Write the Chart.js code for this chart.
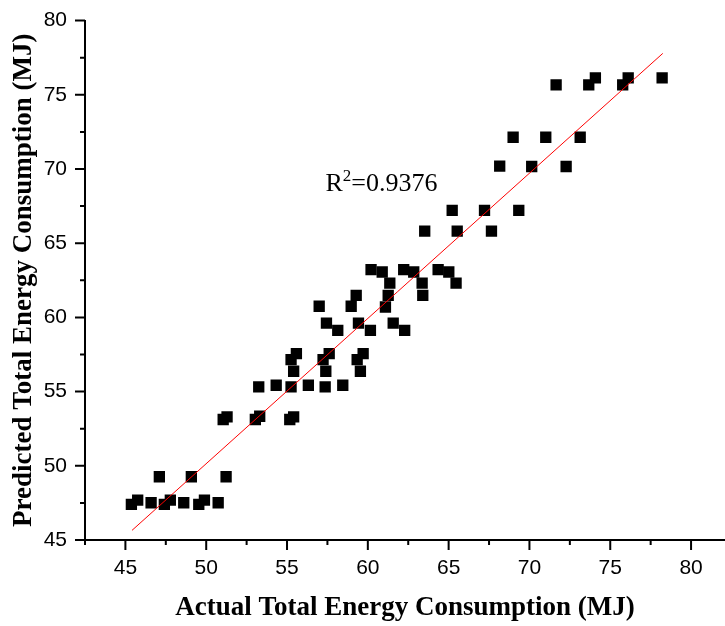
<!DOCTYPE html>
<html>
<head>
<meta charset="utf-8">
<script src="https://cdn.jsdelivr.net/npm/chart.js@4.4.1/dist/chart.umd.min.js"></script>
<style>
  html, body { margin: 0; padding: 0; background: #fff; }
  #energyChart { display: block; }
</style>
</head>
<body>
<canvas id="energyChart" width="725" height="626"></canvas>
<script>
const actual = [45.37, 45.76, 46.59, 47.41, 47.78, 48.61, 49.54, 49.89, 50.74,
    47.10, 49.08, 51.23,
    51.05, 51.29, 53.04, 53.31, 55.17, 55.41,
    53.25, 54.33, 55.25, 56.32, 57.36, 58.45,
    55.41, 57.40, 59.54,
    55.25, 55.58, 57.23, 57.61, 59.34, 59.71,
    56.99, 57.44, 58.14, 58.97, 59.28, 59.42, 60.16,
    61.09, 61.26, 61.57, 62.28, 63.40,
    60.20, 60.89, 61.36, 62.22, 62.84, 63.36, 64.35, 65.01, 65.46,
    63.52, 65.53, 67.65,
    65.22, 67.22, 69.34,
    68.16, 70.14, 72.27,
    68.99, 71.01, 73.14,
    71.65, 73.67, 74.08, 75.77, 76.11, 78.21];
const predicted = [47.40, 47.69, 47.51, 47.40, 47.69, 47.51, 47.40, 47.69, 47.51,
    49.26, 49.26, 49.26,
    53.12, 53.30, 53.12, 53.34, 53.12, 53.30,
    55.32, 55.43, 55.32, 55.43, 55.32, 55.43,
    56.37, 56.37, 56.37,
    57.16, 57.56, 57.16, 57.56, 57.16, 57.56,
    60.75, 59.62, 59.13, 60.75, 61.49, 59.62, 59.13,
    60.70, 61.49, 59.62, 59.13, 61.49,
    63.22, 63.06, 62.31, 63.22, 63.06, 62.31, 63.22, 63.06, 62.31,
    65.81, 65.81, 65.81,
    67.21, 67.21, 67.21,
    70.19, 70.17, 70.17,
    72.14, 72.14, 72.14,
    75.67, 75.67, 76.14, 75.67, 76.14, 76.14];

// fitted line end points
const fitX = [45.41, 78.25];
const fitY = [45.65, 77.79];

const xTicks = [42.5, 45, 47.5, 50, 52.5, 55, 57.5, 60, 62.5, 65, 67.5, 70, 72.5, 75, 77.5, 80];
const yTicks = [45, 47.5, 50, 52.5, 55, 57.5, 60, 62.5, 65, 67.5, 70, 72.5, 75, 77.5, 80];
const xLabels = [45, 50, 55, 60, 65, 70, 75, 80];
const yLabels = [45, 50, 55, 60, 65, 70, 75, 80];

const r2Text = ['R', '2', '=0.9376'];
const r2At = [57.38, 68.55];

const scatterPts = actual.map((v, i) => ({ x: v, y: predicted[i] }));
const fitPts = fitX.map((v, i) => ({ x: v, y: fitY[i] }));

const tickFont = { family: 'Liberation Sans, Arial, sans-serif', size: 21 };
const titleFont = { family: 'Liberation Serif, Times New Roman, serif', size: 27, weight: 'bold' };

// major/minor tick marks + R² label
const extras = {
    id: 'extras',
    afterDraw(chart) {
        const { ctx, scales: { x, y } } = chart;
        ctx.save();
        ctx.strokeStyle = '#000';
        ctx.lineWidth = 2;
        ctx.beginPath();
        xTicks.forEach(v => {
            const len = v % 5 === 0 ? 10 : 5;
            const px = x.getPixelForValue(v);
            ctx.moveTo(px, y.bottom);
            ctx.lineTo(px, y.bottom + len);
        });
        yTicks.forEach(v => {
            const len = v % 5 === 0 ? 10 : 5;
            const py = y.getPixelForValue(v);
            ctx.moveTo(x.left, py);
            ctx.lineTo(x.left - len, py);
        });
        ctx.stroke();

        let tx = x.getPixelForValue(r2At[0]);
        const ty = y.getPixelForValue(r2At[1]);
        ctx.fillStyle = '#000';
        ctx.textBaseline = 'alphabetic';
        ctx.textAlign = 'left';
        ctx.font = '26px "Liberation Serif", "Times New Roman", serif';
        ctx.fillText(r2Text[0], tx, ty);
        tx += ctx.measureText(r2Text[0]).width;
        ctx.font = '17px "Liberation Serif", "Times New Roman", serif';
        ctx.fillText(r2Text[1], tx, ty - 10);
        tx += ctx.measureText(r2Text[1]).width;
        ctx.font = '26px "Liberation Serif", "Times New Roman", serif';
        ctx.fillText(r2Text[2], tx, ty);
        ctx.restore();
    }
};

const ctx = document.getElementById('energyChart').getContext('2d');
const energyChart = new Chart(ctx, {
    data: {
        datasets: [
            {
                type: 'line',
                data: fitPts,
                borderColor: '#ff0000',
                borderWidth: 1,
                pointRadius: 0,
                fill: false,
                order: 0
            },
            {
                type: 'scatter',
                data: scatterPts,
                pointStyle: 'rect',
                pointRadius: 8,
                pointHoverRadius: 8,
                backgroundColor: '#000',
                borderWidth: 0,
                order: 1
            }
        ]
    },
    options: {
        responsive: false,
        animation: false,
        devicePixelRatio: 1,
        layout: { autoPadding: false, padding: { top: 20, right: 0, bottom: 0, left: 0 } },
        plugins: {
            legend: { display: false },
            tooltip: { enabled: false }
        },
        scales: {
            x: {
                type: 'linear',
                min: 42.5,
                max: 82.1,
                afterBuildTicks: scale => { scale.ticks = xLabels.map(v => ({ value: v })); },
                afterFit: scale => {
                    scale.height = 86;
                    scale.paddingLeft = 0;
                    scale.paddingRight = 0;
                },
                grid: { display: true, drawOnChartArea: false, drawTicks: true, tickLength: 10, color: 'rgba(0,0,0,0)' },
                border: { display: true, color: '#000', width: 2 },
                ticks: { color: '#000', font: tickFont, padding: 6, maxRotation: 0 },
                title: {
                    display: true,
                    text: 'Actual Total Energy Consumption (MJ)',
                    color: '#000',
                    font: titleFont,
                    padding: { top: 0, bottom: 2 }
                }
            },
            y: {
                type: 'linear',
                min: 45,
                max: 80,
                afterBuildTicks: scale => { scale.ticks = yLabels.map(v => ({ value: v })); },
                afterFit: scale => { scale.width = 85; },
                grid: { display: true, drawOnChartArea: false, drawTicks: true, tickLength: 10, color: 'rgba(0,0,0,0)' },
                border: { display: true, color: '#000', width: 2 },
                ticks: { color: '#000', font: tickFont, padding: 8 },
                title: {
                    display: true,
                    text: 'Predicted Total Energy Consumption (MJ)',
                    color: '#000',
                    font: titleFont,
                    padding: { top: 8, bottom: 0 }
                }
            }
        }
    },
    plugins: [extras]
});
</script>
</body>
</html>
